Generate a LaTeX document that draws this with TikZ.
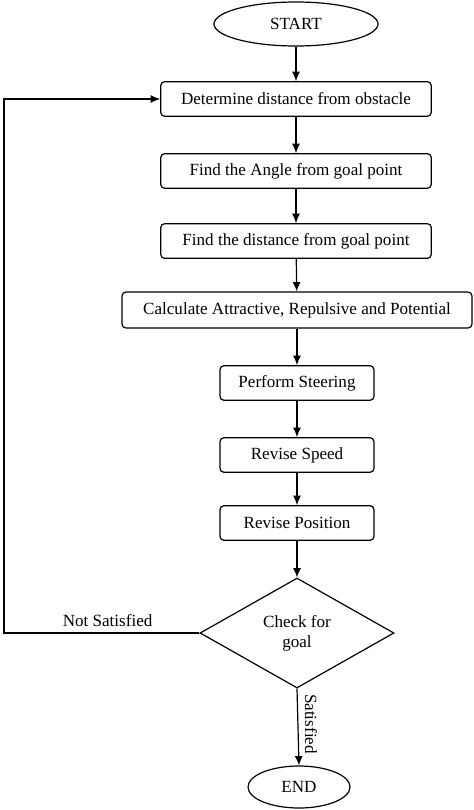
\documentclass[tikz,border=0pt]{standalone}
\usepackage{fontspec}
\setmainfont{Liberation Serif}
\usetikzlibrary{shapes.geometric,arrows.meta}

\tikzset{
  flow/.style={line width=0.9pt, -{Latex[length=7pt,width=6pt]}},
  stepbox/.style={draw, line width=0.9pt, rounded corners=3pt, minimum height=26pt, inner sep=2pt},
  endpoint/.style={draw, line width=0.9pt, ellipse, inner sep=0pt},
  check/.style={draw, line width=0.9pt, diamond, aspect=1.76, inner sep=0pt, align=center,
    minimum width=145.5pt, minimum height=82.5pt}
}

\begin{document}
\begin{tikzpicture}[x=0.75pt, y=-0.75pt, font=\fontsize{12.8}{15}\selectfont]
            \useasboundingbox (0,0) rectangle (474,810);
            % terminals
            \node[endpoint, minimum width=123pt, minimum height=33pt] (start) at (296,24) {START};
            \node[endpoint, minimum width=76.5pt, minimum height=31.5pt] (end) at (299,787) {END};
            % process steps
            \node[stepbox, minimum width=203pt] (obst) at (296,99) {Determine distance from obstacle};
            \node[stepbox, minimum width=203pt] (angle) at (296,171) {Find the Angle from goal point};
            \node[stepbox, minimum width=203pt] (dist) at (296,241) {Find the distance from goal point};
            \node[stepbox, minimum width=262.5pt, minimum height=27pt] (calc) at (297,310) {Calculate Attractive, Repulsive and Potential};
            \node[stepbox, minimum width=115.5pt] (steer) at (297,383) {Perform Steering};
            \node[stepbox, minimum width=115.5pt] (speed) at (297,455) {Revise Speed};
            \node[stepbox, minimum width=115.5pt] (pos) at (297,523) {Revise Position};
            % decision
            \node[check] (goal) at (297,633) {Check for\\goal};
            \coordinate (back) at (4,633);
            % arrows
            \draw[flow] (start) -- (obst);
            \draw[flow] (obst) -- (angle);
            \draw[flow] (angle) -- (dist);
            \draw[flow] (dist) -- (calc);
            \draw[flow] (calc) -- (steer);
            \draw[flow] (steer) -- (speed);
            \draw[flow] (speed) -- (pos);
            \draw[flow] (pos) -- (goal);
            \draw[flow] (goal.west) -- node[above=1pt, pos=0.47] (ns) {Not Satisfied} (back) |- (obst.west);
            \draw[flow] (goal.south) -- (end.north);
            \node[rotate=-90] (sat) at (311,724) {Satisfied};
\end{tikzpicture}
\end{document}
